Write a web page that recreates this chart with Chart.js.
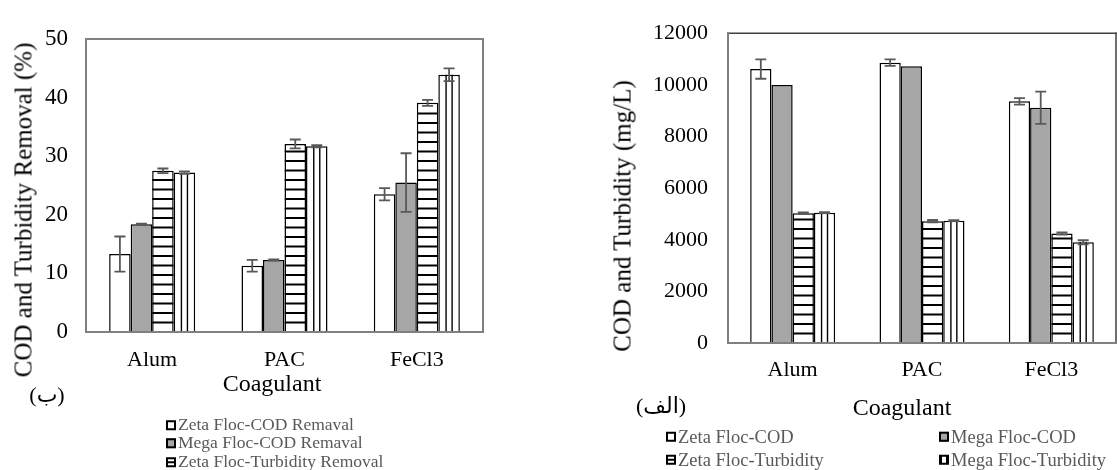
<!DOCTYPE html>
<html><head><meta charset="utf-8">
<script src="https://cdn.jsdelivr.net/npm/chart.js@4.4.1/dist/chart.umd.min.js"></script>
<style>
html,body{margin:0;padding:0;width:1117px;height:470px;overflow:hidden;background:#fff;font-family:"Liberation Serif","Times New Roman","DejaVu Sans",serif;}
#w1{position:absolute;left:0;top:0;width:500px;height:470px;}
#w2{position:absolute;left:560px;top:0;width:557px;height:470px;}
.t{position:absolute;white-space:nowrap;color:#000;line-height:1;transform:translate(-50%,-50%);}
.yt{transform:translate(-50%,-50%) rotate(-90deg);font-size:25px;}
.leg{position:absolute;white-space:nowrap;color:#595959;line-height:1;transform:translateY(-50%);display:flex;align-items:center;}
.box{display:inline-block;width:6px;height:6px;border:2px solid #000;background:#fff;margin-right:2px;}
.b-gray{background:#a6a6a6;}
.b-h{background:linear-gradient(#000,#000) center/100% 2px no-repeat,#fff;}
.b-v{border-left-width:3px;border-right-width:3px;width:4px;}
</style></head>
<body>
<div id="w1"><canvas id="c1"></canvas></div>
<div id="w2"><canvas id="c2"></canvas></div>

<div class="t yt" style="left:23px;top:210px;">COD and Turbidity Removal (%)</div>
<div class="t yt" style="left:622px;top:216px;">COD and Turbidity (mg/L)</div>
<div class="t" style="left:272px;top:383px;font-size:24px;">Coagulant</div>
<div class="t" style="left:902px;top:407px;font-size:24px;">Coagulant</div>
<div class="t" style="left:47px;top:395px;font-size:22px;">(ب)</div>
<div class="t" style="left:661px;top:406px;font-size:22px;">(الف)</div>

<div class="leg" style="left:166px;top:425px;font-size:17.5px;"><span class="box"></span>Zeta Floc-COD Remaval</div>
<div class="leg" style="left:166px;top:443px;font-size:17.5px;"><span class="box b-gray"></span>Mega Floc-COD Remaval</div>
<div class="leg" style="left:166px;top:462px;font-size:17.5px;"><span class="box b-h"></span>Zeta Floc-Turbidity Removal</div>
<div class="leg" style="left:166px;top:481px;font-size:17.5px;"><span class="box b-v"></span>Mega Floc-Turbidity Removal</div>

<div class="leg" style="left:666px;top:437px;font-size:18.5px;"><span class="box"></span>Zeta Floc-COD</div>
<div class="leg" style="left:939px;top:437px;font-size:18.5px;"><span class="box b-gray"></span>Mega Floc-COD</div>
<div class="leg" style="left:666px;top:460px;font-size:18.5px;"><span class="box b-h"></span>Zeta Floc-Turbidity</div>
<div class="leg" style="left:939px;top:460px;font-size:18.5px;"><span class="box b-v"></span>Mega Floc-Turbidity</div>

<script>
// ---- data ----
const categories = ['Alum', 'PAC', 'FeCl3'];

// Removal (%) chart (ب)
const zetaCodRemoval = [13.3, 11.3, 23.5];
const zetaCodRemovalErr = [3.0, 1.0, 1.05];
const megaCodRemoval = [18.4, 12.3, 25.5];
const megaCodRemovalErr = [0.1, 0.1, 5.0];
const zetaTurbRemoval = [27.5, 32.1, 39.1];
const zetaTurbRemovalErr = [0.4, 0.75, 0.5];
const megaTurbRemoval = [27.2, 31.7, 43.9];
const megaTurbRemovalErr = [0.2, 0.2, 1.1];
const removalTicks = [0, 10, 20, 30, 40, 50];

// Concentration (mg/L) chart (الف)
const zetaCod = [10610, 10860, 9360];
const zetaCodErr = [375, 125, 125];
const megaCod = [9990, 10720, 9110];
const megaCodErr = [0, 0, 625];
const zetaTurb = [5030, 4720, 4240];
const zetaTurbErr = [30, 45, 40];
const megaTurb = [5050, 4740, 3900];
const megaTurbErr = [20, 20, 80];
const concTicks = [0, 2000, 4000, 6000, 8000, 10000, 12000];

const FONT = '"Liberation Serif","Times New Roman",serif';

const decor = {
  id: 'decor',
  afterDatasetsDraw(chart) {
    const ctx = chart.ctx;
    const ys = chart.scales.y;
    chart.data.datasets.forEach((ds, di) => {
      const meta = chart.getDatasetMeta(di);
      meta.data.forEach((bar, i) => {
        const p = bar.getProps(['x', 'y', 'base', 'width'], true);
        const l = p.x - p.width / 2, r = p.x + p.width / 2;
        if (ds.stripe === 'h') {
          ctx.save();
          ctx.beginPath();
          ctx.rect(l, p.y, p.width, p.base - p.y);
          ctx.clip();
          ctx.strokeStyle = '#000';
          ctx.lineWidth = 2.2;
          for (let yy = p.base - 9.5; yy > p.y + 3; yy -= 9.5) {
            ctx.beginPath(); ctx.moveTo(l, yy); ctx.lineTo(r, yy); ctx.stroke();
          }
          ctx.restore();
        } else if (ds.stripe === 'v') {
          ctx.save();
          ctx.strokeStyle = '#000';
          ctx.lineWidth = 1.4;
          [0.36, 0.64].forEach(f => {
            const xx = l + p.width * f;
            ctx.beginPath(); ctx.moveTo(xx, p.y); ctx.lineTo(xx, p.base); ctx.stroke();
          });
          ctx.restore();
        }
        const e = ds.errors[i];
        if (e > 0) {
          const yt = ys.getPixelForValue(ds.data[i] + e);
          const yb = ys.getPixelForValue(ds.data[i] - e);
          ctx.save();
          ctx.strokeStyle = '#595959';
          ctx.lineWidth = 1.8;
          ctx.beginPath();
          ctx.moveTo(p.x, yt); ctx.lineTo(p.x, yb);
          ctx.moveTo(p.x - 5.5, yt); ctx.lineTo(p.x + 5.5, yt);
          ctx.moveTo(p.x - 5.5, yb); ctx.lineTo(p.x + 5.5, yb);
          ctx.stroke();
          ctx.restore();
        }
      });
    });
  },
  afterDraw(chart, args, opts) {
    const ctx = chart.ctx;
    const a = chart.chartArea;
    ctx.save();
    ctx.lineCap = 'square';
    const seg = (x1, y1, x2, y2, c, w) => {
      ctx.strokeStyle = c; ctx.lineWidth = w;
      ctx.beginPath(); ctx.moveTo(x1, y1); ctx.lineTo(x2, y2); ctx.stroke();
    };
    seg(a.left, a.top, a.right, a.top, opts.top, opts.wt);
    seg(a.right, a.top, a.right, a.bottom, opts.top, opts.wt);
    seg(a.left, a.top, a.left, a.bottom, opts.side, 2);
    seg(a.left, a.bottom, a.right, a.bottom, opts.side, 2);
    ctx.restore();
  }
};

function mkDatasets(vals, errs, labels) {
  const fills = ['#ffffff', '#a6a6a6', '#ffffff', '#ffffff'];
  const stripes = [null, null, 'h', 'v'];
  return vals.map((v, k) => ({
    label: labels[k],
    data: v,
    errors: errs[k],
    stripe: stripes[k],
    backgroundColor: fills[k],
    borderColor: '#000',
    borderWidth: 1.5,
    borderSkipped: 'start'
  }));
}

function mkChart(id, datasets, ticks, opt) {
  return new Chart(document.getElementById(id), {
    type: 'bar',
    data: { labels: categories, datasets },
    plugins: [decor],
    options: {
      responsive: true,
      maintainAspectRatio: false,
      animation: false,
      datasets: { bar: { categoryPercentage: opt.catPct, barPercentage: 1.0 } },
      layout: { padding: { top: opt.padTop, right: opt.padRight, left: 0, bottom: 0 } },
      plugins: {
        legend: { display: false },
        tooltip: { enabled: false },
        decor: opt.frame
      },
      scales: {
        x: {
          type: 'category',
          grid: { display: false, drawTicks: false },
          border: { display: false },
          ticks: { color: '#000', font: { family: FONT, size: 22 }, padding: opt.xPad },
          afterFit(s) { s.height = opt.xH; }
        },
        y: {
          min: ticks[0], max: ticks[ticks.length - 1],
          afterBuildTicks(s) { s.ticks = ticks.map(v => ({ value: v })); },
          grid: { display: false, drawTicks: false },
          border: { display: false },
          ticks: { color: '#000', font: { family: FONT, size: opt.yFont }, padding: opt.yPad,
                   callback: v => String(v) },
          afterFit(s) { s.width = opt.yW; }
        }
      }
    }
  });
}

mkChart('c1',
  mkDatasets([zetaCodRemoval, megaCodRemoval, zetaTurbRemoval, megaTurbRemoval],
             [zetaCodRemovalErr, megaCodRemovalErr, zetaTurbRemovalErr, megaTurbRemovalErr],
             ['Zeta Floc-COD Remaval', 'Mega Floc-COD Remaval', 'Zeta Floc-Turbidity Removal', 'Mega Floc-Turbidity Removal']),
  removalTicks,
  { catPct: 0.65, padTop: 39, padRight: 17, xH: 138, yW: 86, xPad: 15, yPad: 18, yFont: 23,
    frame: { top: '#808080', side: '#808080', wt: 2 } });

mkChart('c2',
  mkDatasets([zetaCod, megaCod, zetaTurb, megaTurb],
             [zetaCodErr, megaCodErr, zetaTurbErr, megaTurbErr],
             ['Zeta Floc-COD', 'Mega Floc-COD', 'Zeta Floc-Turbidity', 'Mega Floc-Turbidity']),
  concTicks,
  { catPct: 0.657, padTop: 23, padRight: 1, xH: 127, yW: 168, xPad: 14, yPad: 20, yFont: 22,
    frame: { top: '#404040', side: '#808080', wt: 1.5 } });
</script>
</body></html>
